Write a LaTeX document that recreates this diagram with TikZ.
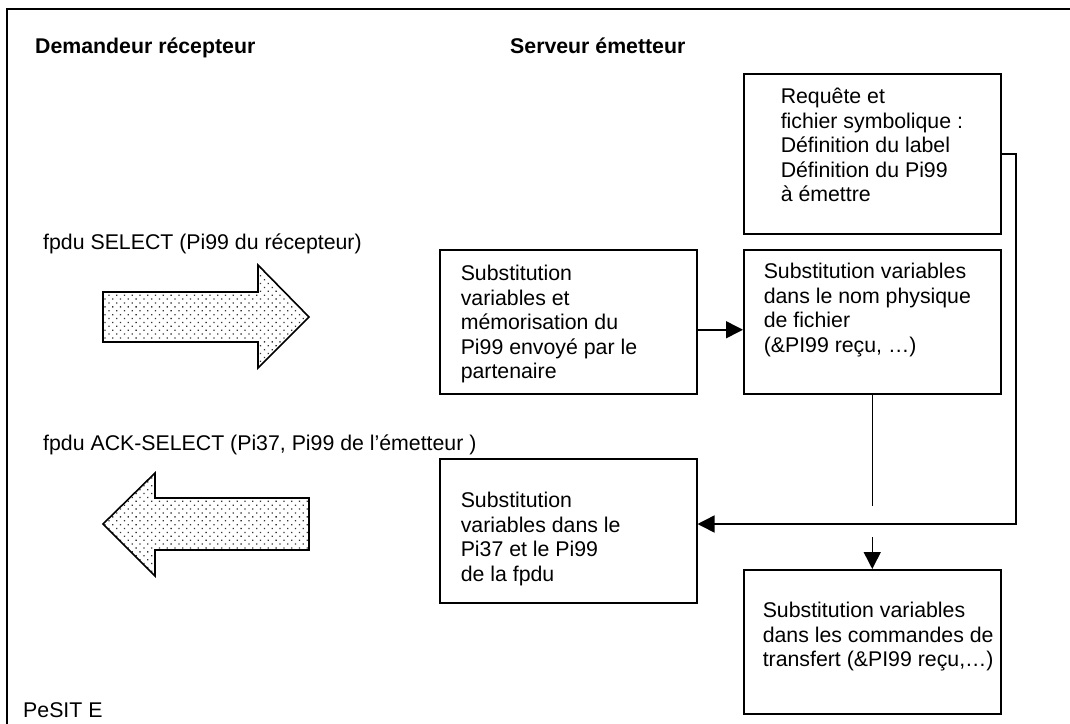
\documentclass[tikz,border=0pt]{standalone}
\usepackage{fontspec}
\setmainfont{Liberation Sans}
\usetikzlibrary{arrows.meta,patterns.meta}
\newcommand\bxt[5]{\parbox[t][#2][t]{#1}{\raggedright\leftskip=#3\relax\rule{0pt}{#4}#5\par}}
\tikzset{
  every node/.style={font=\fontsize{21.3pt}{24.5pt}\selectfont},
  box/.style={draw=black, line width=1.5pt, inner sep=0pt, anchor=north west},
  conn/.style={line width=1.5pt},
  arr/.style={conn, -{Triangle[length=17pt,width=17pt]}},
  blockarrow/.style={draw=black, line width=1.6pt, pattern={Dots[distance=5.5pt,radius=0.9pt,angle=45]}, pattern color=black!80},
  lbl/.style={anchor=base west, inner sep=0pt},
}
\begin{document}
\begin{tikzpicture}[x=1pt,y=-1pt]
\useasboundingbox (0,0) rectangle (1070,723);
% frame
\draw[line width=1.8pt] (7,740) -- (7,9) -- (1090,9);
% titles
\node[lbl] (t1) at (35,53) {\bfseries Demandeur récepteur};
\node[lbl] (t2) at (510,53) {\bfseries Serveur émetteur};
\node[lbl] (l1) at (43,249) {fpdu SELECT (Pi99 du récepteur)};
\node[lbl] (l2) at (43,450) {fpdu ACK-SELECT (Pi37, Pi99 de l’émetteur )};
\node[lbl] (l3) at (23,717) {PeSIT E};
% boxes
\node[box] (b1) at (743,73) {\bxt{257pt}{160pt}{37pt}{30pt}{Requête et\\fichier symbolique :\\Définition du label\\Définition du Pi99\\à émettre}};
\node[box] (b2) at (439,249) {\bxt{257pt}{144pt}{21pt}{31pt}{Substitution\\variables et\\mémorisation du\\Pi99 envoyé par le\\partenaire}};
\node[box] (b3) at (743,249) {\bxt{257pt}{144pt}{20pt}{29pt}{Substitution variables\\dans le nom physique\\de fichier\\(\&PI99 reçu, …)}};
\node[box] (b4) at (439,458) {\bxt{257pt}{144pt}{21pt}{49pt}{Substitution\\variables dans le\\Pi37 et le Pi99\\de la fpdu}};
\node[box] (b5) at (743,569) {\bxt{257pt}{144pt}{19pt}{48pt}{Substitution variables\\dans les commandes de\\transfert (\&PI99 reçu,…)}};
% connectors
\coordinate (rb) at (1016,524);
\coordinate (m1) at (872,506);
\coordinate (m2) at (872,537);
\draw[arr] (b1.east) -- (b1.east -| rb) -- (rb) -- (rb -| b4.east);
\draw[arr] ([yshift=-8pt]b2.east) -- ([yshift=-8pt]b3.west);
\draw[conn] (b3.south) -- (b3.south |- m1);
\draw[arr] (m2 -| b5.north) -- (b5.north);
% block arrows
\draw[blockarrow] (103,292) -- (258,292) -- (258,265) -- (309,317) -- (258,368) -- (258,342) -- (103,342) -- cycle;
\draw[blockarrow] (309,498) -- (155,498) -- (155,473) -- (103,524) -- (155,576) -- (155,550) -- (309,550) -- cycle;
\end{tikzpicture}
\end{document}
